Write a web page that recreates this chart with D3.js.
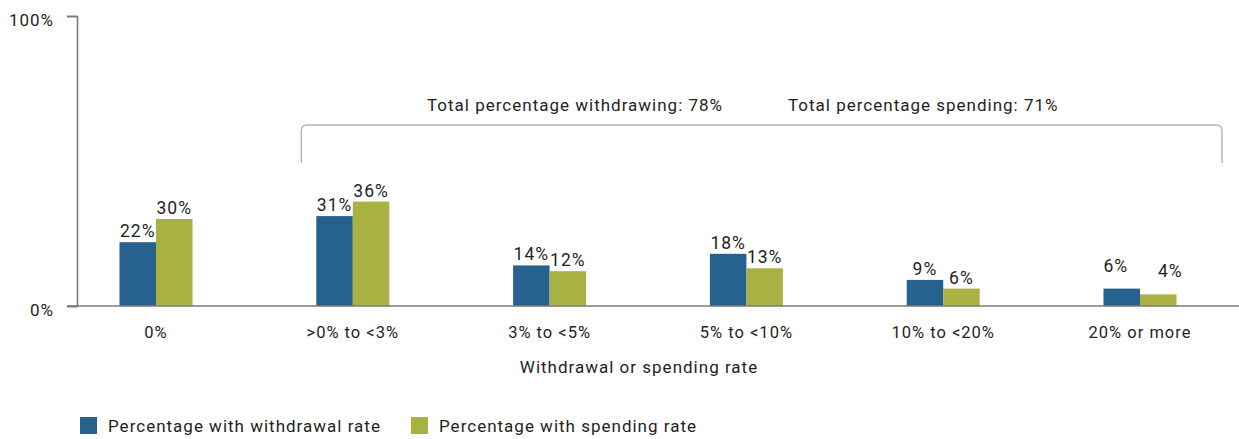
<!DOCTYPE html>
<html>
<head>
<meta charset="utf-8">
<script src="https://cdn.jsdelivr.net/npm/d3@7"></script>
<style>
  html, body { margin: 0; padding: 0; background: #fff; }
  svg text { font-family: Roboto, "Liberation Sans", sans-serif; fill: #231f20; letter-spacing: 1px; }
</style>
</head>
<body>
<svg id="chart" width="1239" height="439"></svg>
<script>
// Withdrawal / spending rate buckets
const categories = ["0%", ">0% to <3%", "3% to <5%", "5% to <10%", "10% to <20%", "20% or more"];
const seriesNames = ["Percentage with withdrawal rate", "Percentage with spending rate"];
const withdrawalValues = [22, 31, 14, 18, 9, 6];
const spendingValues = [30, 36, 12, 13, 6, 4];
const yTickValues = [0, 100];
const totalNotes = ["Total percentage withdrawing: 78%", "Total percentage spending: 71%"];
const xAxisTitle = "Withdrawal or spending rate";

const colors = ["#27628e", "#a9b143"];

const svg = d3.select("#chart");
const W = 1239;
const baseY = 306, topY = 16, axisX = 77;

const y = d3.scaleLinear().domain([0, 100]).range([baseY, topY]);

const x0 = d3.scaleBand()
  .domain(categories)
  .range([57.6, 1238.4])
  .paddingInner(0.629)
  .paddingOuter(0.3145);

const x1 = d3.scaleBand()
  .domain([0, 1])
  .range([0, x0.bandwidth()]);

const rows = categories.map((c, i) => ({
  cat: c,
  vals: [withdrawalValues[i], spendingValues[i]]
}));

// Bars
const groups = svg.append("g").selectAll("g")
  .data(rows)
  .join("g")
  .attr("transform", d => `translate(${x0(d.cat)},0)`);

groups.selectAll("rect")
  .data(d => d.vals.map((v, s) => ({ v, s, cat: d.cat })))
  .join("rect")
  .attr("x", d => x1(d.s))
  .attr("width", x1.bandwidth())
  .attr("y", d => y(d.v))
  .attr("height", d => y(0) - y(d.v))
  .attr("fill", d => colors[d.s]);

// Value labels; the last group's labels sit a little higher and spread apart
const lastCat = categories[categories.length - 1];
groups.selectAll("text.val")
  .data(d => d.vals.map((v, s) => ({ v, s, cat: d.cat })))
  .join("text")
  .attr("class", "val")
  .attr("x", d => x1(d.s) + x1.bandwidth() / 2 + (d.cat === lastCat ? (d.s === 0 ? -6 : 12) : 0))
  .attr("y", d => y(d.v) - (d.cat === lastCat ? 17 : 5))
  .attr("text-anchor", "middle")
  .style("font-size", "17.5px")
  .text(d => d.v + "%");

// Y axis
const yAxis = d3.axisLeft(y)
  .tickValues(yTickValues)
  .tickSize(10)
  .tickPadding(13)
  .tickFormat(d => d + "%");

const gy = svg.append("g")
  .attr("transform", `translate(${axisX},0)`)
  .call(yAxis);
gy.select(".domain").attr("stroke", "#7a7a7a").attr("stroke-width", 1.6);
gy.selectAll(".tick line").attr("stroke", "#7a7a7a").attr("stroke-width", 1.6);
gy.selectAll(".tick text")
  .attr("dy", "0.92em")
  .attr("y", -6)
  .style("font-size", "17px")
  .style("font-family", "Roboto, sans-serif")
  .attr("fill", "#231f20");

// X axis baseline
const xAxis = d3.axisBottom(x0).tickSize(0).tickPadding(20);
const gx = svg.append("g")
  .attr("transform", `translate(0,${baseY})`)
  .call(xAxis);
gx.select(".domain").remove();
gx.append("line")
  .attr("x1", 67).attr("x2", W)
  .attr("stroke", "#7a7a7a").attr("stroke-width", 1.6);
gx.selectAll(".tick text")
  .style("font-size", "16.5px")
  .style("font-family", "Roboto, sans-serif")
  .attr("fill", "#231f20");

// Axis title
svg.append("text")
  .attr("x", 639)
  .attr("y", 373)
  .attr("text-anchor", "middle")
  .style("font-size", "17px")
  .text(xAxisTitle);

// Bracket spanning the non-zero buckets
const bL = x0(categories[1]) - 15, bR = W - 17, bTop = 125, bBot = 163, r = 6;
svg.append("path")
  .attr("d", `M${bL},${bBot} L${bL},${bTop + r} Q${bL},${bTop} ${bL + r},${bTop} L${bR - r},${bTop} Q${bR},${bTop} ${bR},${bTop + r} L${bR},${bBot}`)
  .attr("fill", "none")
  .attr("stroke", "#b3b3b3")
  .attr("stroke-width", 1.4);

svg.append("text").attr("x", 427).attr("y", 111)
  .style("font-size", "17px").text(totalNotes[0]);
svg.append("text").attr("x", 788).attr("y", 111)
  .style("font-size", "17px").text(totalNotes[1]);

// Legend
const legendX = [80, 411];
const legend = svg.append("g").selectAll("g")
  .data(seriesNames)
  .join("g")
  .attr("transform", (d, i) => `translate(${legendX[i]},417)`);
legend.append("rect")
  .attr("width", 17).attr("height", 17)
  .attr("fill", (d, i) => colors[i]);
legend.append("text")
  .attr("x", 28).attr("y", 15)
  .style("font-size", "17px")
  .text(d => d);
</script>
</body>
</html>
